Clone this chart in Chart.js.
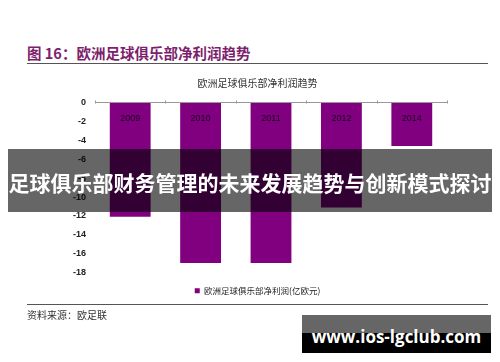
<!DOCTYPE html>
<html><head><meta charset="utf-8">
<script src="https://cdn.jsdelivr.net/npm/chart.js@4"></script>
<style>
html,body{margin:0;padding:0;background:#fff;}
body{width:500px;height:362px;overflow:hidden;position:relative;font-family:"Noto Sans CJK SC","Noto Sans",sans-serif;}
#hdr{position:absolute;left:27px;top:43px;font-size:14.5px;font-weight:bold;color:#7d1f6e;line-height:20px;white-space:nowrap;}
.rule{position:absolute;left:27px;width:461px;height:0;border-top:1.5px solid #555;}
#wrap{position:absolute;left:0;top:66px;width:500px;height:239px;}
#src{position:absolute;left:27px;top:307px;font-size:10px;color:#333;line-height:16px;white-space:nowrap;}
#banner{position:absolute;left:8px;top:149px;width:484px;height:63px;background:rgba(0,0,0,0.6);color:#fff;font-size:21px;font-weight:bold;text-align:center;line-height:67px;white-space:nowrap;}
#wm{position:absolute;left:302px;top:315px;width:189px;height:38px;background:linear-gradient(to bottom,#666 0,#666 47%,#000 47%,#000 100%);color:#fff;font-family:"Open Sans","Noto Sans",sans-serif;font-weight:bold;font-size:17px;text-align:center;line-height:44px;white-space:nowrap;}
</style>
</head><body>
<div id="hdr">图 16：欧洲足球俱乐部净利润趋势</div>
<div class="rule" style="top:63px"></div>
<div id="wrap"><canvas id="c"></canvas></div>
<div class="rule" style="top:304px"></div>
<div id="src">资料来源：欧足联</div>
<div id="banner">足球俱乐部财务管理的未来发展趋势与创新模式探讨</div>
<div id="wm">www.ios-lgclub.com</div>
<script>
const categories = ['2009', '2010', '2011', '2012', '2014'];
const netProfit = [-12.1, -17.0, -17.0, -11.1, -4.6];
const yMin = -18, yMax = 0, yStep = 2;
const seriesName = '欧洲足球俱乐部净利润(亿欧元)';
const chartTitle = '欧洲足球俱乐部净利润趋势';

const cjk = "'Noto Sans CJK SC', 'Noto Sans', sans-serif";
const latin = "'Liberation Sans', Arial, sans-serif";

const tickMarks = {
  id: 'tickMarks',
  afterDraw(chart) {
    const xs = chart.scales.x, ys = chart.scales.y;
    const y0 = Math.round(ys.getPixelForValue(0)) + 0.5;
    const half = (xs.getPixelForValue(1) - xs.getPixelForValue(0)) / 2;
    const ctx = chart.ctx;
    ctx.save();
    ctx.strokeStyle = '#999';
    ctx.lineWidth = 1;
    ctx.beginPath();
    for (let i = 0; i <= categories.length; i++) {
      const x = Math.round(xs.getPixelForValue(i) - half) + 0.5;
      ctx.moveTo(x, y0);
      ctx.lineTo(x, y0 - 3);
    }
    ctx.stroke();
    ctx.restore();
  }
};

new Chart(document.getElementById('c'), {
  type: 'bar',
  data: {
    labels: categories,
    datasets: [{
      label: seriesName,
      data: netProfit,
      backgroundColor: '#800080',
      borderWidth: 0,
      barPercentage: 0.58,
      categoryPercentage: 1.0
    }]
  },
  options: {
    responsive: true,
    maintainAspectRatio: false,
    animation: false,
    layout: { padding: { left: 68, right: 53, top: 0, bottom: 0 } },
    plugins: {
      title: {
        display: true,
        text: chartTitle,
        color: '#333',
        font: { family: cjk, size: 10, weight: 'normal' },
        padding: { top: 11, bottom: 13.7 }
      },
      legend: {
        position: 'bottom',
        labels: {
          boxWidth: 5, boxHeight: 5,
          color: '#222',
          font: { family: cjk, size: 8.5 },
          padding: 14
        }
      },
      tooltip: { enabled: false }
    },
    scales: {
      x: {
        position: { y: 0 },
        offset: true,
        grid: { display: true, drawOnChartArea: false, drawTicks: false },
        border: { display: true, color: '#999', width: 1, z: 1 },
        ticks: { z: 1, color: '#1a001e', font: { family: latin, size: 9 }, padding: 10 }
      },
      y: {
        min: yMin, max: yMax,
        grid: { display: false, drawTicks: false },
        border: { display: false },
        ticks: { stepSize: yStep, color: '#222', font: { family: latin, size: 9, weight: 'bold' }, padding: 9 },
        afterFit(scale) { scale.width = 27; }
      }
    }
  },
  plugins: [tickMarks]
});
</script>
</body></html>
